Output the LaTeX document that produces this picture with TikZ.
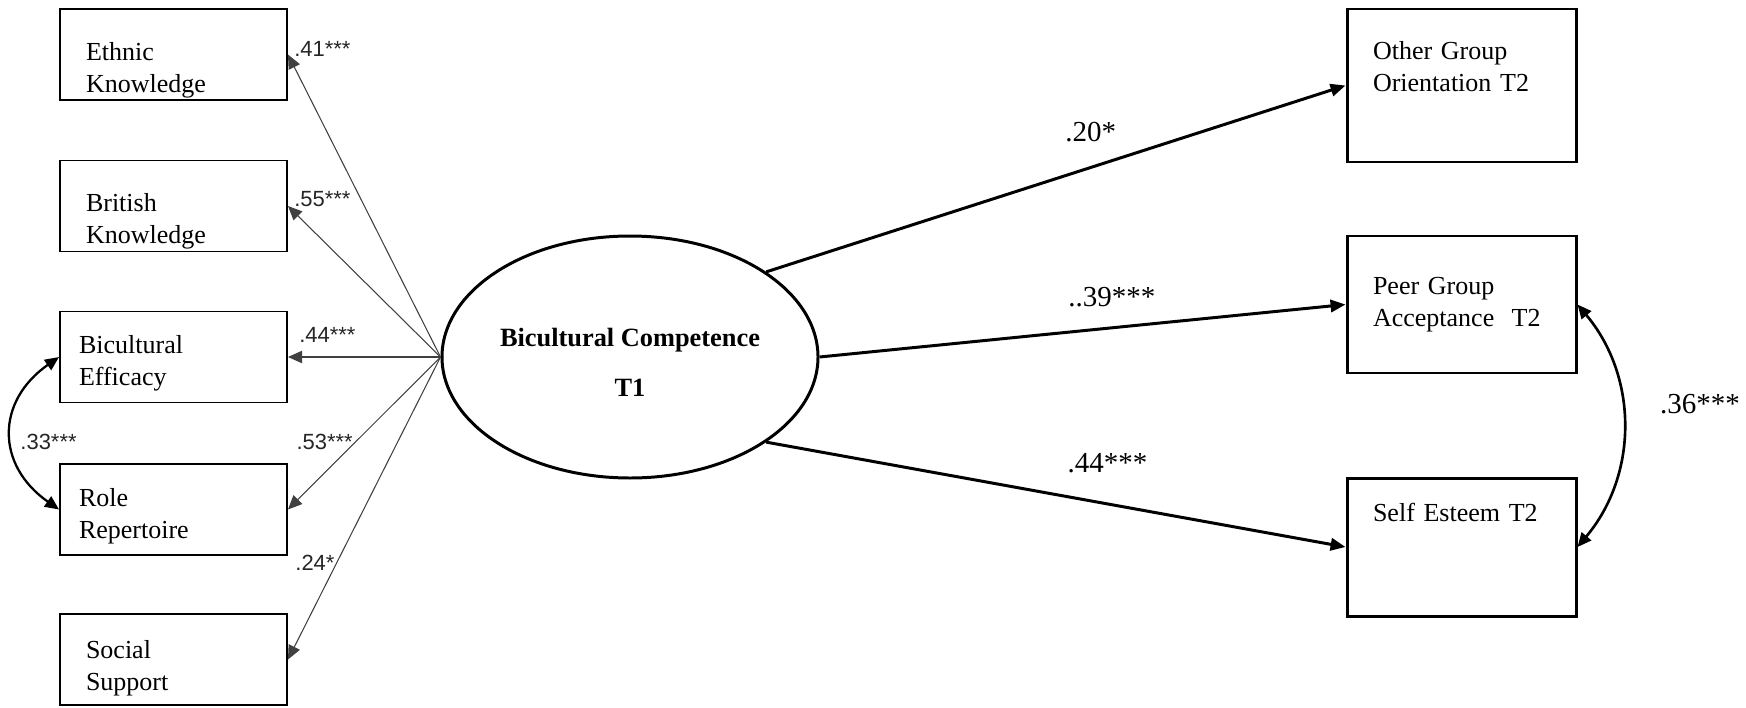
\documentclass[tikz,border=0pt]{standalone}
\usepackage{fontspec}
\setmainfont{Liberation Serif}
\newfontfamily\coeffont{Liberation Sans}
\usetikzlibrary{shapes.geometric, arrows.meta, positioning}

\begin{document}
\begin{tikzpicture}[
    indicator/.style={rectangle, draw=black, line width=1.1pt, minimum height=1.82cm, text width=3.5cm, inner xsep=0.52cm, inner ysep=0pt, align=left, font=\fontsize{14.8}{18.2}\selectfont},
    outcome/.style={rectangle, draw=black, line width=1.7pt, text width=3.54cm, inner xsep=0.52cm, inner ysep=0pt, align=left, font=\fontsize{14.8}{18.2}\selectfont},
    latent/.style={ellipse, draw=black, line width=1.7pt, minimum width=7.52cm, minimum height=4.84cm, inner sep=0pt, align=center, font=\fontsize{15}{28.5}\selectfont\bfseries},
    textdown/.style={execute at begin node={\rule{0pt}{#1}}},
    textup/.style={execute at end node={\rule[-#1]{0pt}{#1}}},
    loading/.style={-{Triangle[length=8pt, width=7pt]}, line width=0.6pt, black!75},
    pathArrow/.style={-{Triangle[length=8.5pt, width=7pt]}, line width=1.7pt},
    covArrow/.style={{Triangle[length=8pt, width=7pt]}-{Triangle[length=8pt, width=7pt]}, line width=1.3pt},
    lbl/.style={font=\coeffont\fontsize{12.5}{14}\selectfont, text=black!85, inner sep=1pt},
    coef/.style={font=\fontsize{16.5}{20}\selectfont, inner sep=1pt},
]
\useasboundingbox (0,0) rectangle (34.92,-14.14);

% === Indicators ===
\node[indicator, textdown=28pt] (ethnic) at (3.47,-1.09) {Ethnic\\Knowledge};
\node[indicator, textdown=28pt] (british) at (3.47,-4.12) {British\\Knowledge};
\node[indicator, textdown=17.7pt, inner xsep=0.38cm, text width=3.78cm] (bicult) at (3.47,-7.14) {Bicultural\\Efficacy};
\node[indicator, textdown=17.7pt, inner xsep=0.38cm, text width=3.78cm] (role) at (3.47,-10.19) {Role\\Repertoire};
\node[indicator, textdown=20.3pt] (social) at (3.47,-13.19) {Social\\Support};

% === Latent factor ===
\node[latent] (bc) at (12.6,-7.14) {\rule{0pt}{17pt}Bicultural Competence\\T1};

% === Outcomes ===
\node[outcome, textup=21.6pt, minimum height=3.06cm] (other) at (29.23,-1.71) {Other Group\\Orientation T2};
\node[outcome, minimum height=2.74cm] (peer) at (29.23,-6.09) {Peer Group\\Acceptance~ T2};
\node[outcome, textup=39.3pt, minimum height=2.76cm] (self) at (29.23,-10.94) {Self Esteem T2};

% === Loadings ===
\draw[loading] (bc.west) -- node[lbl, pos=1, anchor=west, xshift=0.08cm, yshift=0.12cm] {.41***} (ethnic.east);
\draw[loading] (bc.west) -- node[lbl, pos=1, anchor=west, xshift=0.08cm, yshift=0.14cm] {.55***} (british.east);
\draw[loading] (bc.west) -- node[lbl, pos=1, anchor=west, xshift=0.18cm, yshift=0.44cm] {.44***} (bicult.east);
\draw[loading] (bc.west) -- node[lbl, pos=.56, anchor=east] {.53***} (role.east);
\draw[loading] (bc.west) -- node[lbl, pos=.68, anchor=east] {.24*} (social.east);

% === Structural paths ===
\draw[pathArrow] (bc.32) -- node[coef, pos=.56, above=0.45cm] {.20*} (other.west);
\draw[pathArrow] (bc.east) -- node[coef, pos=.556, above=0.36cm] {..39***} (peer.west);
\draw[pathArrow] (bc.-32) -- node[coef, pos=.589, above=0.55cm] {.44***} (self.west);

% === Covariances ===
\draw[covArrow] (bicult.west) to[out=215, in=145, looseness=1.3]
    node[lbl, pos=.5, anchor=west, xshift=0.12cm, yshift=-0.18cm] {.33***} (role.west);
\draw[covArrow, line width=1.5pt] (peer.east) to[out=-50, in=50, looseness=1]
    node[coef, pos=.5, anchor=west, xshift=0.68cm, yshift=0.44cm] {.36***} (self.east);

\end{tikzpicture}
\end{document}
